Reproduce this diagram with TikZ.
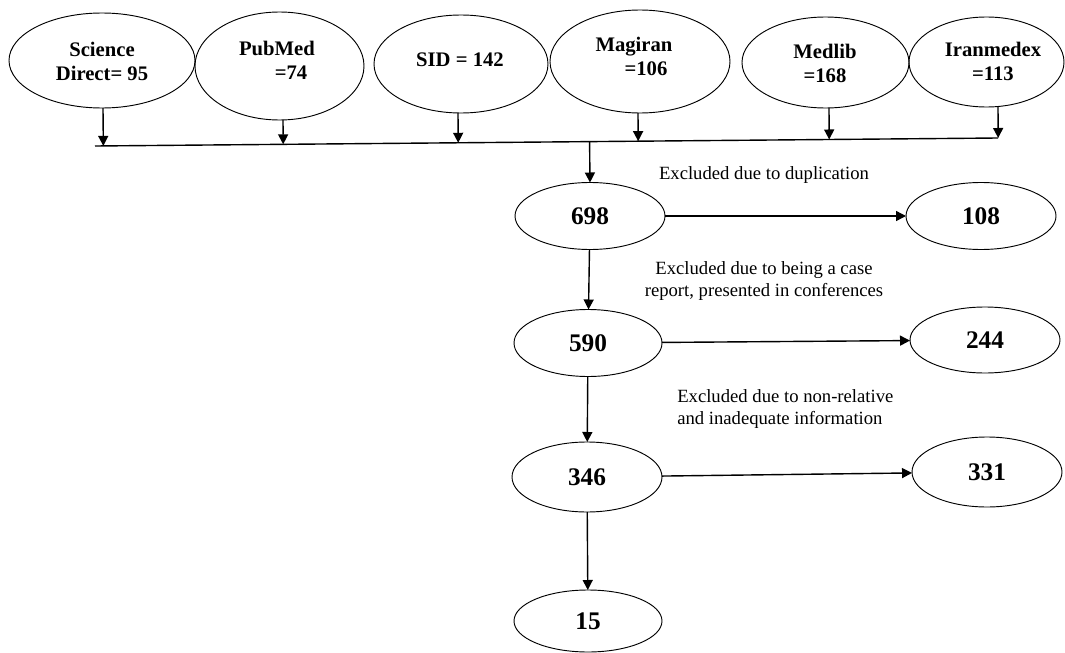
\documentclass[tikz,border=0pt]{standalone}
\usepackage{fontspec}
\setmainfont{Liberation Serif}
\usetikzlibrary{shapes.geometric,arrows.meta,calc}
\begin{document}
\begin{tikzpicture}[x=0.75pt,y=-0.75pt,
  ell/.style={draw, ellipse, inner sep=0pt, outer sep=0pt, line width=0.7pt},
  arr/.style={line width=1.05pt, -{Triangle[length=7.5pt,width=7.5pt]}},
  ln/.style={line width=1.05pt},
  src/.style={font=\bfseries\fontsize{15.5}{18}\selectfont, align=center, inner sep=0pt},
  num/.style={font=\bfseries\fontsize{19}{22}\selectfont, inner sep=0pt},
  note/.style={font=\fontsize{14}{16.5}\selectfont, inner sep=0pt}]
\useasboundingbox (0,0) rectangle (1065,653);

% source databases
\node[ell, minimum width=139.5pt, minimum height=71.25pt] (sd) at (102,60.5) {};
\node[ell, minimum width=126.75pt, minimum height=81pt] (pm) at (279.5,66) {};
\node[ell, minimum width=130.5pt, minimum height=73.5pt] (sid) at (461,64) {};
\node[ell, minimum width=135pt, minimum height=77.25pt] (mg) at (640,61.5) {};
\node[ell, minimum width=125.25pt, minimum height=68.25pt] (ml) at (825.5,62.5) {};
\node[ell, minimum width=116.25pt, minimum height=67.5pt] (ir) at (986.5,62) {};

\node[src] (tsd) at (102,61) {Science\\Direct= 95};
\node[src] (tpm) at (277,60) {PubMed\\\hspace*{21pt}=74};
\node[src] (tsid) at (460,60) {SID = 142};
\node[src] (tmg) at (634,56) {Magiran\\\hspace*{18pt}=106};
\node[src] (tml) at (825,63) {Medlib\\=168};
\node[src] (tir) at (993,61) {Iranmedex\\=113};

% collecting line
\coordinate (bl) at (95,146);
\coordinate (br) at (998,138);
\draw[ln] (bl) -- (br);

\coordinate (sdo) at ($(sd.south)+(1,0)$);
\coordinate (pmo) at ($(pm.south)+(3.5,0)$);
\coordinate (sido) at ($(sid.south)+(-3,0)$);
\coordinate (mgo) at ($(mg.south)+(-2,0)$);
\coordinate (mlo) at ($(ml.south)+(3.5,0)$);
\coordinate (iro) at ($(ir.south)+(11.5,-0.5)$);
\draw[arr] (sdo) -- ($(bl)!(sdo)!(br)$);
\draw[arr] (pmo) -- ($(bl)!(pmo)!(br)$);
\draw[arr] (sido) -- ($(bl)!(sido)!(br)$);
\draw[arr] (mgo) -- ($(bl)!(mgo)!(br)$);
\draw[arr] (mlo) -- ($(bl)!(mlo)!(br)$);
\draw[arr] (iro) -- ($(bl)!(iro)!(br)$);

% flow
\node[ell, num, minimum width=112.5pt, minimum height=50.25pt] (n698) at (590,216) {698};
\node[ell, num, minimum width=112.5pt, minimum height=50.25pt] (n108) at (981,216) {108};
\node[ell, num, minimum width=111pt, minimum height=50.25pt] (n590) at (588,343) {590};
\node[ell, num, minimum width=112.5pt, minimum height=49.5pt] (n244) at (985,340) {244};
\node[ell, num, minimum width=112.5pt, minimum height=52.5pt] (n346) at (587,477) {346};
\node[ell, num, minimum width=112.5pt, minimum height=52.5pt] (n331) at (987,472) {331};
\node[ell, num, minimum width=111pt, minimum height=46.5pt] (n15) at (588,621) {15};

\draw[arr] ($(bl)!(n698.north)!(br)$) -- (n698.north);
\draw[arr] (n698) -- (n108);
\draw[arr] (n698) -- (n590);
\draw[arr] (n590) -- (n244);
\draw[arr] (n590) -- (n346);
\draw[arr] (n346) -- (n331);
\draw[arr] (n346) -- (n15);

\node[note] (e1) at (764,175) {Excluded due to duplication};
\node[note, align=center] (e2) at (764,281) {Excluded due to being a case\\report, presented in conferences};
\node[note, align=left, anchor=west] (e3) at (677,409) {Excluded due to non-relative\\and inadequate information};
\end{tikzpicture}
\end{document}
